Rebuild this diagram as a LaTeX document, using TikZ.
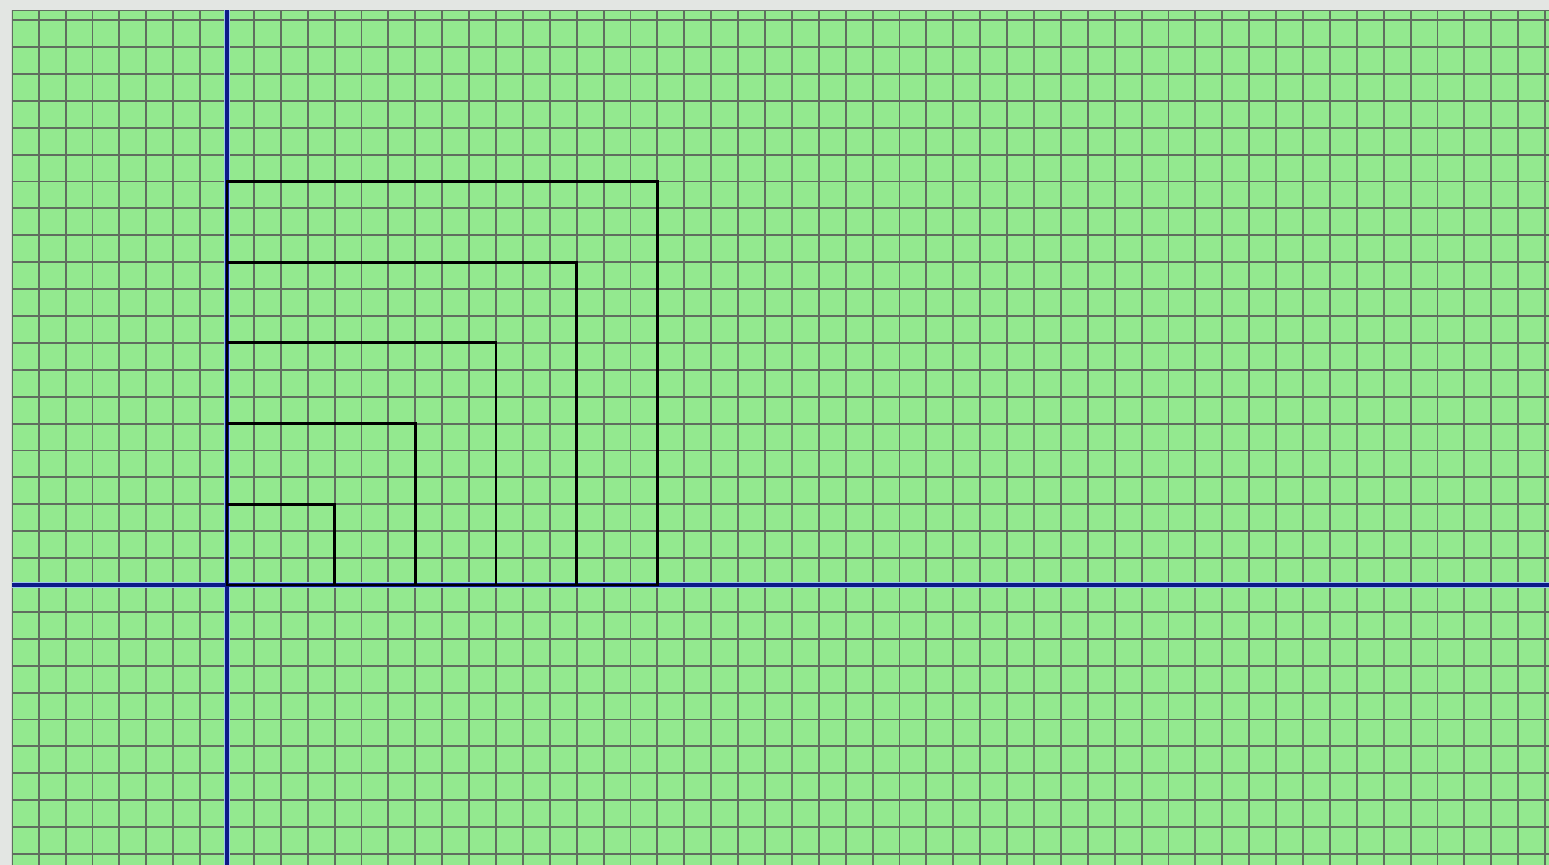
\documentclass[tikz,border=0pt]{standalone}
\usepackage{tikz}
\definecolor{canvasgreen}{HTML}{93E98F}
\definecolor{gridgrey}{HTML}{5F6E5F}
\definecolor{axisblue}{HTML}{0C1A88}
\definecolor{axishalo}{HTML}{9CC4EE}
\definecolor{frameg}{HTML}{E3E6E3}
\tikzset{
  gridln/.style = {draw=gridgrey, line width=1.05pt},
  axisln/.style = {draw=axisblue, line width=1.8pt},
  halo/.style   = {draw=axishalo, line width=3.2pt},
  sqln/.style   = {draw=black, line width=1.6pt},
}

\begin{document}
\begin{tikzpicture}[x=0.538cm,y=0.538cm]
  \useasboundingbox (-8.439,-10.409) rectangle (49.145,21.747);
  \fill[frameg] (-8.439,-10.409) rectangle (49.145,21.747);
  \fill[canvasgreen] (-8,-10.409) rectangle (49.145,21.375);

  \begin{scope}
    \clip (-8,-10.409) rectangle (49.145,21.375);
    % grid
    \draw[gridln, step=1] (-8,-11) grid (50,22);
    \draw[gridln] (-8,21.375) -- (50,21.375);
    % axes
    \draw[halo] (-8,0) -- (50,0);
    \draw[halo] (0,-11) -- (0,22);
    \draw[axisln] (-8,0) -- (50,0);
    \draw[axisln] (0,-11) -- (0,22);
  \end{scope}

  % nested rectangles
  \foreach \k in {1,...,5}
    \draw[sqln] (0,0) rectangle ({3*\k+1},{3*\k});
\end{tikzpicture}
\end{document}
